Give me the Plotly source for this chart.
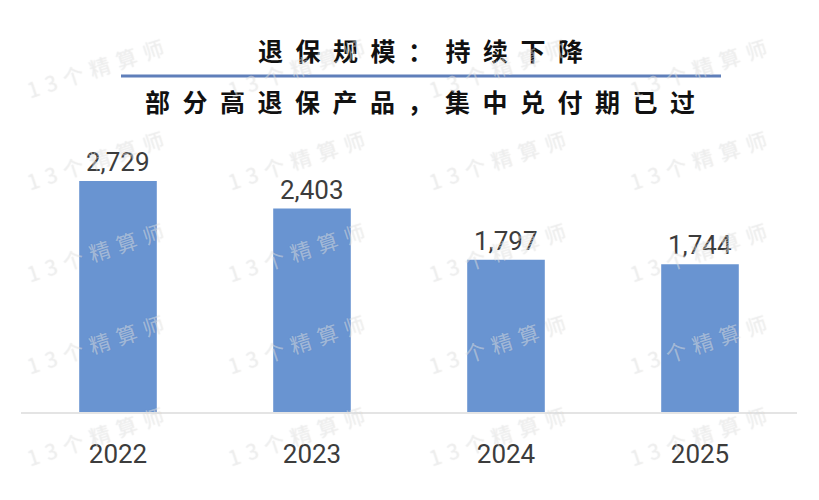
import plotly.graph_objects as go

# ---- data ----
years = ["2022", "2023", "2024", "2025"]
surrender = [2729, 2403, 1797, 1744]
value_labels = ["2,729", "2,403", "1,797", "1,744"]
title_main = "退保规模：持续下降"
title_sub = "部分高退保产品，集中兑付期已过"
watermark = "13个精算师"

W, H = 819, 500
L, R, T, B = 21, 22, 130, 88
PW, PH = W - L - R, H - T - B


def px_x(x):
    return (x - L) / PW


def px_y(y):
    return (H - B - y) / PH


def spaced(s, sep="\u2002"):
    return sep.join(s)


fig = go.Figure()
fig.add_trace(go.Bar(
    x=years, y=surrender,
    marker=dict(color="#6994d1", line=dict(width=0)),
    hoverinfo="skip",
))

ann = []
for i, (v, lab) in enumerate(zip(surrender, value_labels)):
    ann.append(dict(x=i, y=v, xref="x", yref="y", text=lab, showarrow=False,
                    yanchor="bottom", yshift=2,
                    font=dict(family="Roboto, sans-serif", size=26, color="#3c3c3c")))

# titles
ann.append(dict(x=px_x(421), y=px_y(50), xref="paper", yref="paper", text="<b>" + spaced(title_main) + "</b>",
                showarrow=False, xanchor="center", yanchor="middle",
                font=dict(family="Noto Sans CJK SC", size=25, color="#111111")))
ann.append(dict(x=px_x(420), y=px_y(101), xref="paper", yref="paper", text="<b>" + spaced(title_sub) + "</b>",
                showarrow=False, xanchor="center", yanchor="middle",
                font=dict(family="Noto Sans CJK SC", size=25, color="#111111")))

# watermarks
for row in range(0, 5):
    for col in range(4):
        cx = 95 + col * 201
        cy = 68 + row * 92
        ann.append(dict(x=px_x(cx), y=px_y(cy), xref="paper", yref="paper",
                        text=spaced(watermark, "\u2004"), showarrow=False, textangle=-18,
                        xanchor="center", yanchor="middle",
                        font=dict(family="Noto Sans CJK SC", size=21,
                                  color="rgba(255,255,255,0.4)",
                                  shadow="0px 0px 1px rgba(110,110,110,0.5)")))

shapes = [dict(type="line", xref="paper", yref="paper",
               x0=px_x(121), x1=px_x(721), y0=px_y(76), y1=px_y(76),
               line=dict(color="#5f7fba", width=3))]

fig.update_layout(
    width=W, height=H,
    margin=dict(l=L, r=R, t=T, b=B, autoexpand=False),
    paper_bgcolor="white", plot_bgcolor="white",
    showlegend=False,
    bargap=0.6,
    annotations=ann,
    shapes=shapes,
    xaxis=dict(type="category", range=[-0.5, 3.5], showline=True, linecolor="#e4e4e4", linewidth=2,
               ticks="", showgrid=False, zeroline=False, ticklabelstandoff=18,
               tickfont=dict(family="Roboto, sans-serif", size=26, color="#3c3c3c"),
               fixedrange=True),
    yaxis=dict(range=[0, 3331], visible=False, fixedrange=True),
)

fig.write_html("out.html", config={"displayModeBar": False},
               post_script="document.body.style.margin='0';document.body.style.overflow='hidden';")
